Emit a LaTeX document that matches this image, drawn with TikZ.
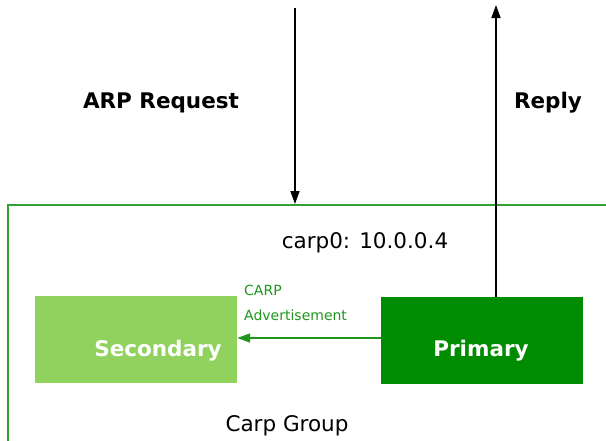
\documentclass[tikz,border=0pt]{standalone}
\usepackage{fontspec}
\setmainfont{DejaVu Sans}
\usetikzlibrary{arrows.meta}
\definecolor{grpgreen}{RGB}{50,160,50}
\definecolor{lightg}{RGB}{145,210,95}
\definecolor{darkg}{RGB}{0,140,0}
\definecolor{advg}{RGB}{30,150,30}
\begin{document}
\begin{tikzpicture}[x=1pt,y=-1pt,
  box/.style={draw=none,minimum width=202pt,minimum height=87pt,inner sep=0pt},
  btxt/.style={text=white,font=\fontsize{21.5}{24}\selectfont\bfseries},
  lbl/.style={font=\fontsize{21.5}{24}\selectfont},
  blbl/.style={font=\fontsize{21.5}{24}\selectfont\bfseries},
  arr/.style={-{Triangle[length=13pt,width=9pt]},line width=1.5pt}]
\useasboundingbox (0,0) rectangle (606,440);
\draw[grpgreen,line width=1.6pt] (8,445) -- (8,205) -- (612,205);
\node[box,fill=lightg] (sec) at (136,339.5) {};
\node[box,fill=darkg] (pri) at (482,340.5) {};
\node[btxt] (sect) at (158,350.5) {Secondary};
\node[btxt] (prit) at (481,350.5) {Primary};
\coordinate (top1) at (295,8);
\coordinate (grptop) at (295,204);
\coordinate (top2) at (496,5);
\draw[arr] (top1) -- (grptop);
\draw[arr] (pri.north -| top2) -- (top2);
\draw[arr,advg] (pri.west |- 0,338) -- (sec.east |- 0,338);
\node[blbl] (req) at (161,102.5) {ARP Request};
\node[blbl] (rep) at (548,102.5) {Reply};
\node[lbl] (carp) at (365,242.5) {carp0: 10.0.0.4};
\node[lbl] (grp) at (287,425.5) {Carp Group};
\node[anchor=west,text=advg,font=\fontsize{14}{16}\selectfont,inner sep=0pt] (c1) at (244,290.5) {CARP};
\node[anchor=west,text=advg,font=\fontsize{14}{16}\selectfont,inner sep=0pt] (c2) at (244,315.5) {Advertisement};
\end{tikzpicture}
\end{document}
